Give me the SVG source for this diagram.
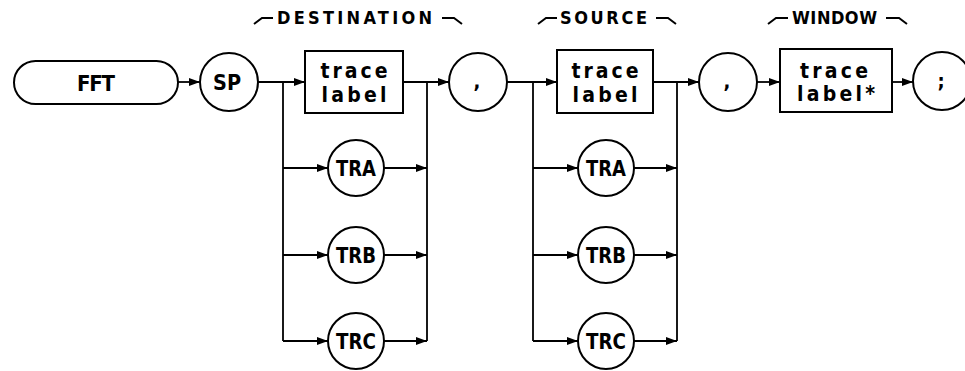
<svg xmlns="http://www.w3.org/2000/svg" width="965" height="371" viewBox="0 0 965 371">
<style>
  .shape { fill: #fff; stroke: #000; stroke-width: 2; }
  .line { fill: none; stroke: #000; stroke-width: 1.8; }
  .arr { fill: none; stroke: #000; stroke-width: 1.8; marker-end: url(#ah); }
  .hook { fill: none; stroke: #000; stroke-width: 2; }
  text { font-family: "DejaVu Sans Condensed", "DejaVu Sans", sans-serif; font-weight: bold; fill: #000; text-anchor: middle; }
  .lbl { font-size: 22px; }
  .low { font-size: 21px; }
  .top { font-size: 18px; }
  .punct { font-size: 20px; }
</style>
<defs>
  <marker id="ah" markerUnits="userSpaceOnUse" markerWidth="11" markerHeight="8" refX="11" refY="4" orient="auto">
    <path d="M0,0 L11,4 L0,8 z" fill="#000"/>
  </marker>
</defs>

<g id="labels">
  <path class="hook" d="M254,24 L262,18 L273,18"/>
  <text class="top" x="354.5" y="24" textLength="155" lengthAdjust="spacing">DESTINATION</text>
  <path class="hook" d="M442,18 L454,18 L462,24"/>
  <path class="hook" d="M538,24 L546,18 L557,18"/>
  <text class="top" x="603.5" y="24" textLength="87" lengthAdjust="spacing">SOURCE</text>
  <path class="hook" d="M656,18 L668,18 L676,24"/>
  <path class="hook" d="M768,24 L776,18 L788,18"/>
  <text class="top" x="834.5" y="24" textLength="85" lengthAdjust="spacing">WINDOW</text>
  <path class="hook" d="M886,18 L899,18 L907,24"/>
</g>

<g id="connectors">
  <line class="arr" x1="178" y1="82" x2="200" y2="82"/>
  <line class="arr" x1="258" y1="82" x2="305" y2="82"/>
  <line class="arr" x1="403" y1="82" x2="449" y2="82"/>
  <line class="arr" x1="507" y1="82" x2="557" y2="82"/>
  <line class="arr" x1="653" y1="82" x2="699" y2="82"/>
  <line class="arr" x1="757" y1="82" x2="780" y2="82"/>
  <line class="arr" x1="892" y1="82" x2="913" y2="82"/>
  <!-- destination branches -->
  <polyline class="line" points="283,82 283,341"/>
  <polyline class="line" points="427,82 427,341"/>
  <line class="arr" x1="283" y1="168" x2="328" y2="168"/>
  <line class="arr" x1="384" y1="168" x2="427" y2="168"/>
  <line class="arr" x1="283" y1="255" x2="328" y2="255"/>
  <line class="arr" x1="384" y1="255" x2="427" y2="255"/>
  <line class="arr" x1="283" y1="341" x2="328" y2="341"/>
  <line class="arr" x1="384" y1="341" x2="427" y2="341"/>
  <!-- source branches -->
  <polyline class="line" points="533,82 533,341"/>
  <polyline class="line" points="677,82 677,341"/>
  <line class="arr" x1="533" y1="168" x2="578" y2="168"/>
  <line class="arr" x1="634" y1="168" x2="677" y2="168"/>
  <line class="arr" x1="533" y1="255" x2="578" y2="255"/>
  <line class="arr" x1="634" y1="255" x2="677" y2="255"/>
  <line class="arr" x1="533" y1="341" x2="578" y2="341"/>
  <line class="arr" x1="634" y1="341" x2="677" y2="341"/>
</g>

<g id="node-fft">
  <rect class="shape" x="14" y="61" width="164" height="43" rx="21.5"/>
  <text class="lbl" x="96" y="91" textLength="38" lengthAdjust="spacing">FFT</text>
</g>
<g id="node-sp">
  <circle class="shape" cx="229" cy="82" r="29"/>
  <text class="lbl" x="227" y="90" textLength="28" lengthAdjust="spacingAndGlyphs">SP</text>
</g>
<g id="node-dest-trace">
  <rect class="shape" x="305" y="51" width="98" height="62"/>
  <text class="low" x="354" y="78" textLength="67" lengthAdjust="spacing">trace</text>
  <text class="low" x="354" y="102" textLength="65" lengthAdjust="spacing">label</text>
</g>
<g id="node-dest-tra">
  <circle class="shape" cx="356" cy="168" r="28"/>
  <text class="lbl" x="356" y="176" textLength="40" lengthAdjust="spacingAndGlyphs">TRA</text>
</g>
<g id="node-dest-trb">
  <circle class="shape" cx="356" cy="255" r="28"/>
  <text class="lbl" x="356" y="263" textLength="40" lengthAdjust="spacingAndGlyphs">TRB</text>
</g>
<g id="node-dest-trc">
  <circle class="shape" cx="356" cy="341" r="28"/>
  <text class="lbl" x="356" y="349" textLength="40" lengthAdjust="spacingAndGlyphs">TRC</text>
</g>
<g id="node-comma1">
  <circle class="shape" cx="478" cy="82" r="29"/>
  <text class="punct" x="477" y="88">,</text>
</g>
<g id="node-src-trace">
  <rect class="shape" x="557" y="50" width="96" height="63"/>
  <text class="low" x="605" y="78" textLength="67" lengthAdjust="spacing">trace</text>
  <text class="low" x="605" y="102" textLength="65" lengthAdjust="spacing">label</text>
</g>
<g id="node-src-tra">
  <circle class="shape" cx="606" cy="168" r="28"/>
  <text class="lbl" x="606" y="176" textLength="40" lengthAdjust="spacingAndGlyphs">TRA</text>
</g>
<g id="node-src-trb">
  <circle class="shape" cx="606" cy="255" r="28"/>
  <text class="lbl" x="606" y="263" textLength="40" lengthAdjust="spacingAndGlyphs">TRB</text>
</g>
<g id="node-src-trc">
  <circle class="shape" cx="606" cy="341" r="28"/>
  <text class="lbl" x="606" y="349" textLength="40" lengthAdjust="spacingAndGlyphs">TRC</text>
</g>
<g id="node-comma2">
  <circle class="shape" cx="728" cy="82" r="29"/>
  <text class="punct" x="727" y="88">,</text>
</g>
<g id="node-window">
  <rect class="shape" x="780" y="49" width="112" height="63"/>
  <text class="low" x="834" y="78" textLength="68" lengthAdjust="spacing">trace</text>
  <text class="low" x="836" y="101" textLength="78" lengthAdjust="spacing">label*</text>
</g>
<g id="node-semicolon">
  <circle class="shape" cx="942" cy="81" r="29"/>
  <text class="punct" x="941" y="88">;</text>
</g>
</svg>
